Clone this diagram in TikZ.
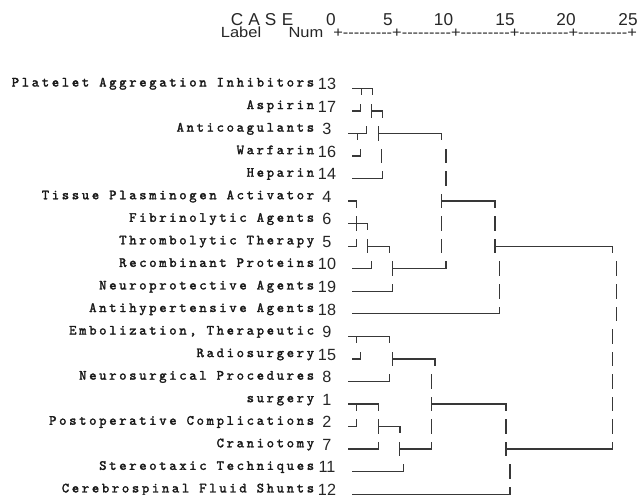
\documentclass[tikz,border=0pt]{standalone}
\usepackage{fontspec}
\setmainfont{Liberation Sans}
\newfontfamily\lblfont{lmmono10-regular.otf}[FakeBold=2,LetterSpace=19]
\newcommand\dgH[3]{\draw[dg] (#1,{88.3+22.55*#3}) -- (#2,{88.3+22.55*#3});}
\newcommand\dgV[2]{\draw[dg] (#1,{88.3+22.55*#2-6.6}) -- (#1,{88.3+22.55*#2+6.6});}
\newcommand\dgD[2]{\draw[dg] (#1,{88.3+22.55*#2}) -- (#1,{88.3+22.55*#2+6.2});}
\newcommand\dgU[2]{\draw[dg] (#1,{88.3+22.55*#2-6.6}) -- (#1,{88.3+22.55*#2});}
\newcommand\wide[1]{\scalebox{1.12}[1]{#1}}
\begin{document}
\begin{tikzpicture}[x=1pt,y=-1pt,
  dg/.style={draw=black!78,line width=1.3pt,line cap=rect},
  lbl/.style={font=\lblfont\fontsize{14}{14}\selectfont,anchor=base east,inner sep=0pt,text depth=1.5pt,text=black!90},
  num/.style={font=\fontsize{16.2}{16.2}\selectfont,anchor=base,inner sep=0pt,text depth=0pt,text=black!85},
  hdrA/.style={font=\fontsize{17.2}{17.2}\selectfont,inner sep=0pt,text depth=0pt,text=black!85,anchor=base},
  hdrB/.style={font=\fontsize{14.7}{14.7}\selectfont,inner sep=0pt,text height=10.5pt,text depth=0pt,text=black!85,anchor=base west}]
\useasboundingbox[fill=white] (0,0) rectangle (637,495);
% header
\foreach \c/\x [count=\k] in {C/237,A/254,S/270.5,E/287.5}
  \node[hdrA] (case\k) at (\x,26) {\c};
\foreach \v/\x in {0/331,5/388,10/443.5,15/505,20/566,25/628}
  \node[hdrA] (t\v) at (\x,26) {\v};
\node[hdrB] (label) at (220.7,37.5) {\wide{Label}};
\node[hdrB] (num) at (288.3,37.5) {\wide{Num}};
\node[hdrB] (axis) at (333.2,37.5)
  {\scalebox{1.117}[1]{+-{}-{}-{}-{}-{}-{}-{}-{}-{}+-{}-{}-{}-{}-{}-{}-{}-{}-{}+-{}-{}-{}-{}-{}-{}-{}-{}-{}+-{}-{}-{}-{}-{}-{}-{}-{}-{}+-{}-{}-{}-{}-{}-{}-{}-{}-{}+}};
% labels and case numbers
\foreach \i/\t/\n in {0/Platelet Aggregation Inhibitors/13, 1/Aspirin/17, 2/Anticoagulants/3,
  3/Warfarin/16, 4/Heparin/14, 5/Tissue Plasminogen Activator/4, 6/Fibrinolytic Agents/6,
  7/Thrombolytic Therapy/5, 8/Recombinant Proteins/10, 9/Neuroprotective Agents/19,
  10/Antihypertensive Agents/18, 11/{Embolization, Therapeutic}/9, 12/Radiosurgery/15,
  13/Neurosurgical Procedures/8, 14/surgery/1, 15/Postoperative Complications/2,
  16/Craniotomy/7, 17/Stereotaxic Techniques/11, 18/Cerebrospinal Fluid Shunts/12}{
  \node[lbl] (l\n) at (314.3,{88.3+22.55*\i-1.8}) {\t};
  \node[num] (n\n) at (327,{88.3+22.55*\i+1.2}) {\n};
}
% dendrogram
\dgH{352.7}{372.3}{0} \dgD{361.7}{0} \dgD{372.3}{0}
\dgH{352.7}{360.7}{1} \dgU{360.7}{1} \dgV{371.7}{1} \dgH{371.7}{382.7}{1} \dgD{382.7}{1}
\dgH{348.3}{366.7}{2} \dgD{357.3}{2} \dgU{366.7}{2} \dgV{378.3}{2} \dgH{378.3}{441.7}{2} \dgD{441.7}{2}
\dgH{352.7}{360.7}{3} \dgU{360.7}{3} \dgV{381.7}{3} \dgV{446}{3}
\dgH{352.7}{382.7}{4} \dgU{382.7}{4} \dgV{446}{4}
\dgH{348.3}{356.7}{5} \dgD{356.7}{5} \dgV{441.7}{5} \dgH{441.7}{495}{5} \dgD{495}{5}
\dgH{348.3}{367.7}{6} \dgV{356.7}{6} \dgD{367.7}{6} \dgV{441.7}{6} \dgV{495}{6}
\dgH{348.3}{356.7}{7} \dgU{356.7}{7} \dgV{367.7}{7} \dgH{367.7}{389.3}{7} \dgD{389.3}{7} \dgV{441.7}{7} \dgV{495}{7} \dgH{495}{612.7}{7} \dgD{612.7}{7}
\dgH{352.7}{371.7}{8} \dgU{371.7}{8} \dgV{392.7}{8} \dgH{392.7}{446}{8} \dgU{446}{8} \dgV{499.3}{8} \dgV{616.7}{8}
\dgH{352.7}{392.7}{9} \dgU{392.7}{9} \dgV{499.3}{9} \dgV{616.7}{9}
\dgH{352.7}{499.3}{10} \dgU{499.3}{10} \dgV{616.7}{10}
\dgH{348.3}{389.3}{11} \dgD{356.7}{11} \dgD{389.3}{11} \dgV{612.7}{11}
\dgH{352.7}{360.7}{12} \dgU{360.7}{12} \dgV{392.7}{12} \dgH{392.7}{435}{12} \dgD{435}{12} \dgV{612.7}{12}
\dgH{348.3}{389.3}{13} \dgU{389.3}{13} \dgV{431.7}{13} \dgV{612.7}{13}
\dgH{348.3}{378.3}{14} \dgD{356.7}{14} \dgD{378.3}{14} \dgV{431.7}{14} \dgH{431.7}{506}{14} \dgD{506}{14} \dgV{612.7}{14}
\dgH{348.3}{356.7}{15} \dgU{356.7}{15} \dgV{378.3}{15} \dgH{378.3}{400}{15} \dgD{400}{15} \dgV{431.7}{15} \dgV{506}{15} \dgV{612.7}{15}
\dgH{348.3}{378.3}{16} \dgU{378.3}{16} \dgV{399.3}{16} \dgH{399.3}{431.7}{16} \dgU{431.7}{16} \dgV{506}{16} \dgH{506}{612.7}{16} \dgU{612.7}{16}
\dgH{352.7}{403.3}{17} \dgU{403.3}{17} \dgV{510}{17}
\dgH{352.7}{510}{18} \dgU{510}{18}
\end{tikzpicture}
\end{document}
